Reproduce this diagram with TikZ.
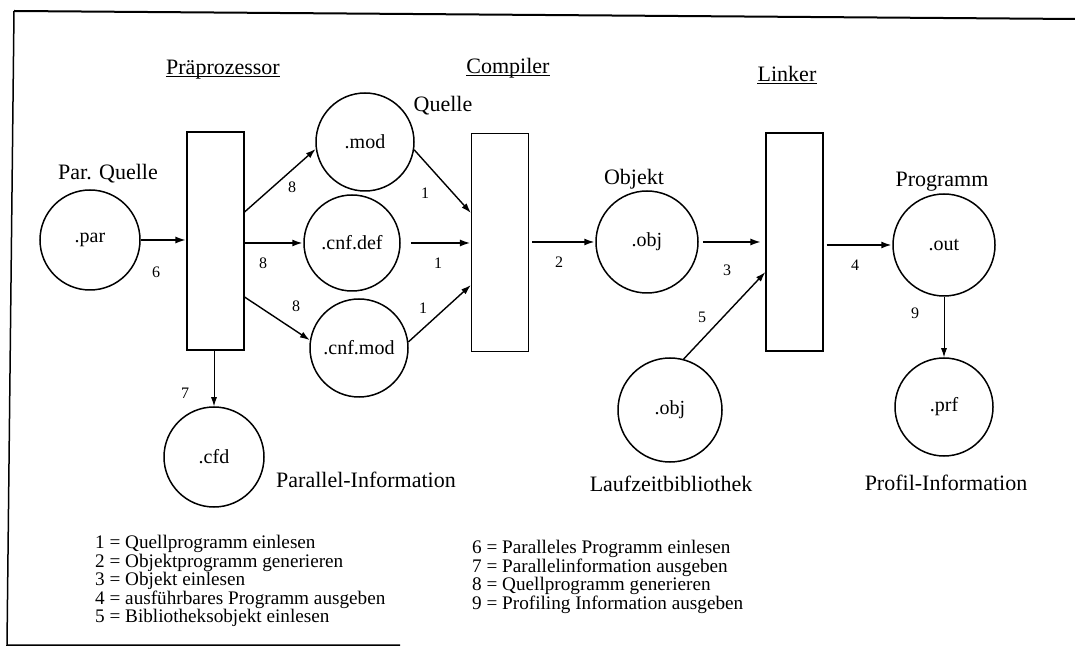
\documentclass[tikz,border=0pt]{standalone}
\usepackage{fontspec}
\setmainfont{Liberation Serif}
\usetikzlibrary{arrows.meta,calc}
\begin{document}
\begin{tikzpicture}[x=1pt,y=1pt,
  proc/.style={draw,line width=1.1pt,inner sep=0pt,minimum width=57pt,minimum height=218pt},
  file/.style={circle,draw,line width=1.5pt,inner sep=0pt,font=\fontsize{20}{23}\selectfont},
  heavy/.style={-{Latex[length=11pt,width=7pt]},line width=2.3pt},
  flow/.style={-{Latex[length=10pt,width=6.5pt]},line width=1.4pt},
  thinflow/.style={-{Latex[length=9pt,width=6pt]},line width=0.9pt},
  num/.style={font=\fontsize{16}{18}\selectfont,inner sep=0pt},
  caption/.style={font=\fontsize{22}{26}\selectfont,inner sep=0pt},
  legend/.style={font=\fontsize{19.2}{18.6}\selectfont,align=left,inner sep=0pt,anchor=west}]
\useasboundingbox (0,0) rectangle (1075,648);

% frame (open on the right)
\draw[line width=2pt] (14,637) -- (1075,629);
\draw[line width=1.5pt] (14,637) -- (7,3) -- (400,3);

% stage headers
\node[caption] (hpre) at (223,578) {Präprozessor};
\node[caption] (hcomp) at (508,580) {Compiler};
\node[caption] (hlink) at (787,574) {Linker};
\foreach \h in {hpre,hcomp,hlink}
  \draw[line width=1pt] ([yshift=-2pt]\h.base west) -- ([yshift=-2pt]\h.base east);

% processing stages
\node[proc] (pre) at (215.5,407) {};
\node[proc] (comp) at (500,405.5) {};
\node[proc] (link) at (794.5,406) {};

% files
\node[file,minimum size=100pt] (par) at (90,408) {.par};
\node[file,minimum size=98pt] (mod) at (365,506) {.mod};
\node[file,minimum size=96pt] (def) at (352,405) {.cnf.def};
\node[file,minimum size=98pt] (cmod) at (359,300) {.cnf.mod};
\node[file,minimum size=102pt] (obj) at (647,406) {.obj};
\node[file,minimum size=102pt] (out) at (944,403) {.out};
\node[file,minimum size=98pt] (prf) at (944,241) {.prf};
\node[file,minimum size=104pt] (lib) at (670,238) {.obj};
\node[file,minimum size=100pt] (cfd) at (214,191) {.cfd};

% file captions
\node[caption] (tpar) at (108,474) {Par. Quelle};
\node[caption] (tmod) at (443,542) {Quelle};
\node[caption] (tobj) at (634,469) {Objekt};
\node[caption] (tout) at (942,466) {Programm};
\node[caption] (tcfd) at (366,168) {Parallel-Information};
\node[caption] (tlib) at (671,164) {Laufzeitbibliothek};
\node[caption] (tprf) at (946,165) {Profil-Information};

% data flow
\draw[heavy] (par.east) -- (par.east -| pre.west);
\draw[flow] ($(pre.east)+(0,29)$) -- (mod.188);
\draw[heavy] (pre.east |- def.west) -- (def.west);
\draw[flow] ($(pre.east)+(0,-56)$) -- (cmod.171);
\draw[thinflow] (pre.south -| cfd.north) -- (cfd.north);
\draw[flow] (mod.-9) -- ($(comp.west)+(0,29.5)$);
\draw[heavy,shorten <=10pt] (def.east) -- (def.east -| comp.west);
\draw[flow] (cmod.7) -- ($(comp.west)+(0,-42.5)$);
\draw[heavy,shorten <=3pt] (comp.east |- obj.west) -- (obj.west);
\draw[heavy,shorten <=4pt,shorten >=4pt] (obj.east) -- (obj.east -| link.west);
\draw[flow] (lib.75) -- ($(link.west)+(0,-30)$);
\draw[heavy,shorten <=3pt] (link.east |- out.west) -- (out.west);
\draw[thinflow] (out.south) -- (prf.north);

% flow numbers
\node[num] (l6) at (156,376) {6};
\node[num] (l8a) at (292,461) {8};
\node[num] (l8b) at (263,385) {8};
\node[num] (l8c) at (296,342) {8};
\node[num] (l7) at (185,255) {7};
\node[num] (l1a) at (425,455) {1};
\node[num] (l1b) at (438,385) {1};
\node[num] (l1c) at (423,340) {1};
\node[num] (l2) at (559,386) {2};
\node[num] (l3) at (727,378) {3};
\node[num] (l5) at (702,331) {5};
\node[num] (l4) at (855,383) {4};
\node[num] (l9) at (915,335) {9};

% legend
\node[legend] (legA) at (95,67) {1 = Quellprogramm einlesen\\
2 = Objektprogramm generieren\\
3 = Objekt einlesen\\
4 = ausführbares Programm ausgeben\\
5 = Bibliotheksobjekt einlesen};
\node[legend] (legB) at (472,71) {6 = Paralleles Programm einlesen\\
7 = Parallelinformation ausgeben\\
8 = Quellprogramm generieren\\
9 = Profiling Information ausgeben};
\end{tikzpicture}
\end{document}
